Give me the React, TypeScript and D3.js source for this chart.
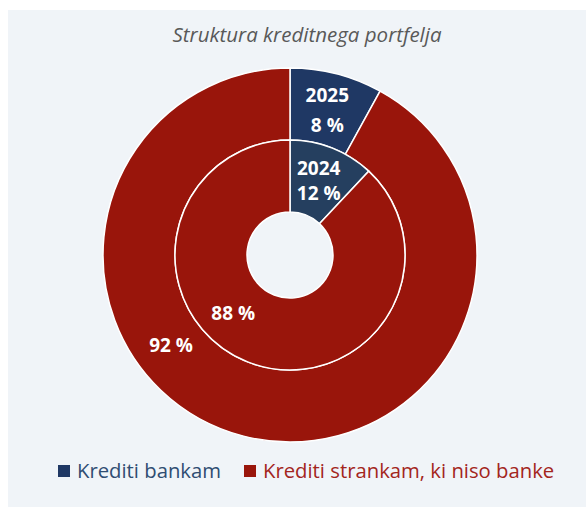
import React, { useRef, useEffect } from 'react';
import * as d3 from 'd3';

// data
const categories = ['Krediti bankam', 'Krediti strankam, ki niso banke'];
const values2025 = [8, 92];
const values2024 = [12, 88];
const ringYears = ['2025', '2024'];
const title = 'Struktura kreditnega portfelja';

const outerColors = ['#1f3864', '#99150b'];
const innerColors = ['#253f5f', '#99150b'];
const legendText = ['#2f4d72', '#a3251c'];

function App() {
  const ref = useRef<SVGSVGElement>(null);
  const W = 586, H = 507;
  const cx = 290, cy = 255;
  const rOuter = 187, rMid = 115, rHole = 43;

  useEffect(() => {
    const svg = d3.select(ref.current);
    svg.selectAll('*').remove();

    svg.append('rect')
      .attr('x', 8).attr('y', 10)
      .attr('width', W - 8).attr('height', H - 10)
      .attr('fill', '#f0f4f8');

    svg.append('text')
      .attr('x', 307).attr('y', 42)
      .attr('text-anchor', 'middle')
      .style('font-family', 'Open Sans, sans-serif')
      .style('font-style', 'italic')
      .style('font-size', '20.5px')
      .attr('fill', '#595959')
      .text(title);

    const pie = d3.pie<number>().sort(null).value(d => d);
    const g = svg.append('g').attr('transform', `translate(${cx},${cy})`);

    const rings = [
      { vals: values2025, inner: rMid, outer: rOuter, colors: outerColors },
      { vals: values2024, inner: rHole, outer: rMid, colors: innerColors },
    ];

    rings.forEach(ring => {
      const arc = d3.arc<d3.PieArcDatum<number>>()
        .innerRadius(ring.inner).outerRadius(ring.outer);
      g.append('g').selectAll('path')
        .data(pie(ring.vals))
        .enter().append('path')
        .attr('d', arc)
        .attr('fill', (d, i) => ring.colors[i])
        .attr('stroke', '#ffffff')
        .attr('stroke-width', 1.5);
    });

    // label placement: polar position (angle in degrees from top, radius)
    const labelPos = [
      [{ a: 14.4, r: 150, year: true, gap: 30 }, { a: 233, r: 149, year: false, gap: 0 }],
      [{ a: 21, r: 80, year: true, gap: 25 }, { a: 224.5, r: 81, year: false, gap: 0 }],
    ];
    const labelFont = (sel: any) => sel
      .attr('text-anchor', 'middle')
      .style('font-family', 'Open Sans, sans-serif')
      .style('font-weight', 'bold')
      .style('font-size', '19px')
      .attr('fill', '#ffffff');

    rings.forEach((ring, ri) => {
      ring.vals.forEach((v, i) => {
        const p = labelPos[ri][i];
        const rad = p.a * Math.PI / 180;
        const x = p.r * Math.sin(rad);
        const y = -p.r * Math.cos(rad);
        if (p.year) {
          labelFont(g.append('text'))
            .attr('x', x).attr('y', y - p.gap / 2 + 7)
            .text(ringYears[ri]);
          labelFont(g.append('text'))
            .attr('x', x).attr('y', y + p.gap / 2 + 7)
            .text(v + ' %');
        } else {
          labelFont(g.append('text'))
            .attr('x', x).attr('y', y + 7)
            .text(v + ' %');
        }
      });
    });

    // legend
    const legend = svg.append('g').attr('transform', 'translate(58,471)');
    const offsets = [0, 186];
    categories.forEach((c, i) => {
      const item = legend.append('g').attr('transform', `translate(${offsets[i]},0)`);
      item.append('rect')
        .attr('x', 0).attr('y', -6)
        .attr('width', 12).attr('height', 12)
        .attr('fill', outerColors[i]);
      item.append('text')
        .attr('x', 19).attr('y', 7)
        .style('font-family', 'Open Sans, sans-serif')
        .style('font-size', '20.3px')
        .attr('fill', legendText[i])
        .text(c);
    });
  }, []);

  return (
    <div className="chart">
      <svg ref={ref} width={W} height={H}
        style={{ position: 'absolute', left: 0, top: 0 }}>
      </svg>
    </div>
  );
}

export default App;
